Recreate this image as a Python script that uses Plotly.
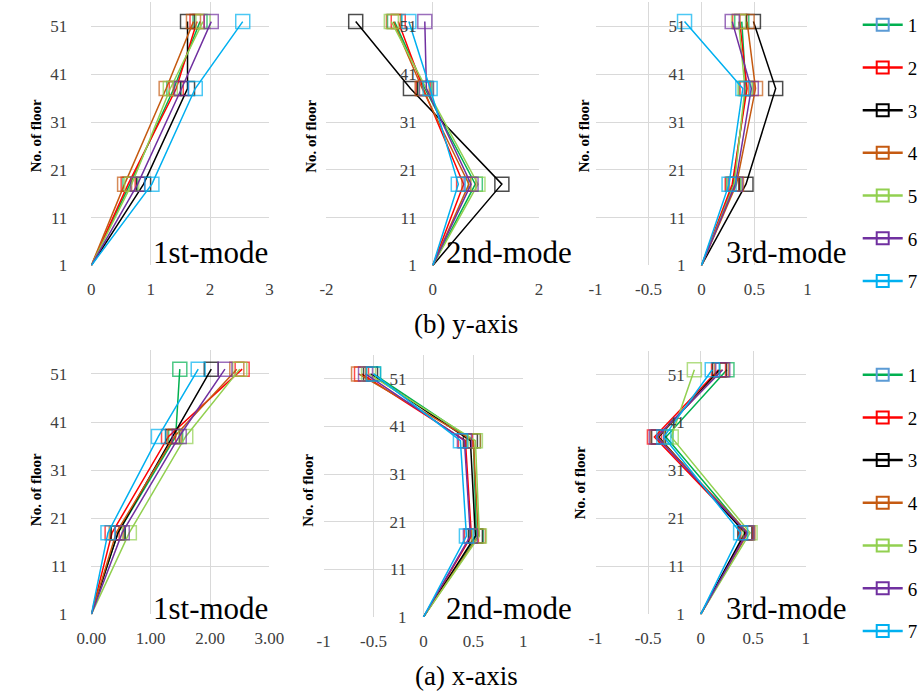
import plotly.graph_objects as go

W, H = 923, 698
SERIF = "Liberation Serif"

floors = [1, 18, 38, 52]
series_names = ["1", "2", "3", "4", "5", "6", "7"]
line_colors = ["#00b050", "#ff0000", "#000000", "#c55a11", "#92d050", "#7030a0", "#00b0f0"]
legend_marker_colors = ["#5b9bd5", "#ff0000", "#000000", "#c55a11", "#92d050", "#7030a0", "#00b0f0"]

# (b) y-axis
y_mode1 = [
    [0, 0.65, 1.39, 1.83],
    [0, 0.62, 1.43, 1.78],
    [0, 0.88, 1.62, 1.62],
    [0, 0.56, 1.26, 1.72],
    [0, 0.68, 1.33, 1.88],
    [0, 0.78, 1.52, 2.02],
    [0, 1.02, 1.75, 2.55],
]
y_mode2 = [
    [0, 0.80, -0.15, -0.72],
    [0, 0.58, -0.18, -0.65],
    [0, 1.30, -0.42, -1.45],
    [0, 0.68, -0.20, -0.74],
    [0, 0.85, -0.12, -0.78],
    [0, 0.72, -0.12, -0.15],
    [0, 0.48, -0.05, -0.45],
]
y_mode3 = [
    [0, 0.30, 0.42, 0.38],
    [0, 0.29, 0.43, 0.36],
    [0, 0.42, 0.70, 0.49],
    [0, 0.33, 0.51, 0.43],
    [0, 0.31, 0.41, 0.35],
    [0, 0.32, 0.47, 0.29],
    [0, 0.26, 0.39, -0.16],
]
# (a) x-axis
x_mode1 = [
    [0, 0.45, 1.42, 1.49],
    [0, 0.35, 1.30, 2.54],
    [0, 0.45, 1.37, 2.02],
    [0, 0.42, 1.40, 2.45],
    [0, 0.64, 1.59, 2.50],
    [0, 0.52, 1.48, 2.25],
    [0, 0.28, 1.13, 1.80],
]
x_mode2 = [
    [0, 0.53, 0.50, -0.50],
    [0, 0.48, 0.42, -0.62],
    [0, 0.52, 0.47, -0.53],
    [0, 0.55, 0.50, -0.65],
    [0, 0.56, 0.52, -0.55],
    [0, 0.47, 0.41, -0.58],
    [0, 0.43, 0.37, -0.50],
]
x_mode3 = [
    [0, 0.44, -0.33, 0.25],
    [0, 0.43, -0.44, 0.17],
    [0, 0.42, -0.40, 0.18],
    [0, 0.45, -0.41, 0.20],
    [0, 0.47, -0.28, -0.06],
    [0, 0.44, -0.42, 0.21],
    [0, 0.38, -0.35, 0.11],
]

mode_labels = ["1st-mode", "2nd-mode", "3rd-mode"]
captions = ["(b) y-axis", "(a) x-axis"]
y_ticks = [1, 11, 21, 31, 41, 51]
x_ticks_a = [0, 1, 2, 3]
x_ticks_a_text = ["0", "1", "2", "3"]
x_ticks_b = [-2, 0, 2]
x_ticks_b_text = ["-2", "0", "2"]
x_ticks_c = [-1, -0.5, 0, 0.5, 1]
x_ticks_c_text = ["-1", "-0.5", "0", "0.5", "1"]
x_ticks_d_text = ["0.00", "1.00", "2.00", "3.00"]

panels = [
    dict(px=(79, 263.3), py=(2.5, 269.3), xr=[0, 3], tv=x_ticks_a, tt=x_ticks_a_text, ys=24, data=y_mode1),
    dict(px=(322.3, 542.3), py=(2.5, 269.3), xr=[-2, 2], tv=x_ticks_b, tt=x_ticks_b_text, ys=16, data=y_mode2),
    dict(px=(600.7, 820), py=(2.5, 269.3), xr=[-1, 1], tv=x_ticks_c, tt=x_ticks_c_text, ys=16, data=y_mode3),
    dict(px=(79, 263.3), py=(355, 623.3), xr=[0, 3], tv=x_ticks_a, tt=x_ticks_d_text, ys=24, data=x_mode1),
    dict(px=(319.3, 526), py=(360, 626), xr=[-1, 1], tv=x_ticks_c, tt=x_ticks_c_text, ys=17, data=x_mode2),
    dict(px=(600.7, 818.3), py=(355.7, 623.3), xr=[-1, 1], tv=x_ticks_c, tt=x_ticks_c_text, ys=16, data=x_mode3),
]

fig = go.Figure()
layout = {}
tickfont = dict(family=SERIF, size=17, color="#404040")
for i, p in enumerate(panels):
    k = "" if i == 0 else str(i + 1)
    xa, ya = "x" + k, "y" + k
    x0, x1 = p["px"]
    yt, yb = p["py"]
    xr = p["xr"]
    zero_px = x0 + (0 - xr[0]) / (xr[1] - xr[0]) * (x1 - x0)
    layout["xaxis" + k] = dict(
        domain=[x0 / W, x1 / W], range=xr, tickvals=p["tv"], ticktext=p["tt"],
        anchor=ya, showgrid=True, gridcolor="#d9d9d9",
        gridwidth=1, zeroline=False, showline=False, ticks="",
        ticklabelstandoff=12, tickfont=tickfont, fixedrange=True,
    )
    layout["yaxis" + k] = dict(
        domain=[1 - yb / H, 1 - yt / H], range=[1, 56], tickvals=y_ticks,
        anchor="free", position=zero_px / W, showgrid=True, gridcolor="#d9d9d9",
        gridwidth=1, zeroline=False, showline=False, ticks="",
        ticklabelstandoff=p["ys"], tickfont=tickfont, fixedrange=True,
    )
    for s in range(7):
        fig.add_trace(go.Scatter(
            x=p["data"][s], y=floors, xaxis=xa, yaxis=ya, mode="lines+markers",
            line=dict(color=line_colors[s], width=1.5),
            marker=dict(symbol="square-open", size=[0, 14, 14, 14], color=line_colors[s],
                        line=dict(width=1.5)),
            showlegend=False, hoverinfo="skip",
        ))

for leg in ["legend", "legend2"]:
    for s in range(7):
        fig.add_trace(go.Scatter(
            x=[None], y=[None], mode="lines+markers", name=series_names[s],
            line=dict(color=line_colors[s], width=2.5),
            marker=dict(symbol="square-open", size=12, color=legend_marker_colors[s],
                        line=dict(width=2)),
            legend=leg, legendgroup=leg + series_names[s], showlegend=True,
        ))

legend_style = dict(
    xanchor="left", yanchor="top", bgcolor="rgba(0,0,0,0)",
    font=dict(family=SERIF, size=19, color="#000000"),
    tracegroupgap=15, itemwidth=40, borderwidth=0,
)
layout["legend"] = dict(x=872 / W, y=1 - 6 / H, **legend_style)
layout["legend2"] = dict(x=872 / W, y=1 - 361 / H, **legend_style)

annotations = []
nof = [(22, 138), (306, 138), (589, 138), (22, 497), (303, 497), (585, 490)]
for (ax, ay) in nof:
    annotations.append(dict(
        x=ax / W, y=1 - ay / H, xref="paper", yref="paper", text="<b>No. of floor</b>",
        textangle=-90, showarrow=False, xanchor="center", yanchor="middle",
        font=dict(family=SERIF, size=15, color="#000000"),
    ))
mode_pos = [(264, 256), (578, 256), (863, 256), (264, 617), (578, 617), (863, 617)]
for j, (mx, my) in enumerate(mode_pos):
    annotations.append(dict(
        x=mx / W, y=1 - my / H, xref="paper", yref="paper", text=mode_labels[j % 3],
        showarrow=False, xanchor="right", yanchor="middle",
        font=dict(family=SERIF, size=31, color="#000000"),
    ))
for c, cy in zip(captions, [329, 686]):
    annotations.append(dict(
        x=467 / W, y=1 - cy / H, xref="paper", yref="paper", text=c,
        showarrow=False, xanchor="center", yanchor="middle",
        font=dict(family=SERIF, size=27, color="#000000"),
    ))

fig.update_layout(
    width=W, height=H, autosize=False,
    margin=dict(l=0, r=0, t=0, b=0),
    paper_bgcolor="white", plot_bgcolor="white",
    annotations=annotations, **layout,
)

fig.write_html("out.html")
